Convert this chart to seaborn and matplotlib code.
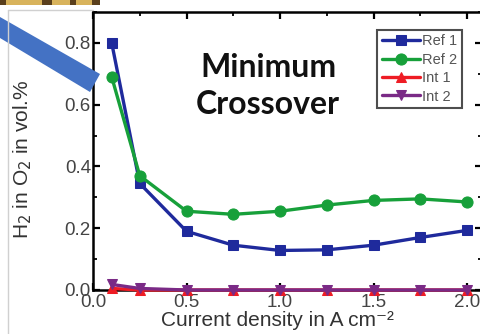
import matplotlib
matplotlib.use("Agg")
import matplotlib.pyplot as plt
import matplotlib.transforms as mtransforms
import seaborn as sns
import pandas as pd
from matplotlib.patches import Polygon, Rectangle
from matplotlib.ticker import MultipleLocator

# Current density (A cm^-2) and H2 crossover (vol.% H2 in O2)
current_density = [0.1, 0.25, 0.5, 0.75, 1.0, 1.25, 1.5, 1.75, 2.0]
ref1 = [0.80, 0.345, 0.19, 0.145, 0.128, 0.130, 0.145, 0.170, 0.193]
ref2 = [0.69, 0.370, 0.255, 0.245, 0.255, 0.275, 0.290, 0.295, 0.285]
int1 = [0.005, 0.0, 0.0, 0.0, 0.0, 0.0, 0.0, 0.0, 0.0]
int2 = [0.018, 0.005, 0.0, 0.0, 0.0, 0.0, 0.0, 0.0, 0.0]

series_names = ["Ref 1", "Ref 2", "Int 1", "Int 2"]
series_values = [ref1, ref2, int1, int2]
colors = ["#1f2a9c", "#17a03a", "#ee1c24", "#7a2a86"]
markers = ["s", "o", "^", "v"]
marker_sizes = [7, 8, 7, 7]

frames = []
for name, vals in zip(series_names, series_values):
    frames.append(pd.DataFrame({"j": current_density, "h2": vals, "sample": name}))
df = pd.concat(frames, ignore_index=True)

sns.set_theme(style="white")
plt.rcParams["font.family"] = ["Liberation Sans", "DejaVu Sans"]

W, H = 481, 334
fig = plt.figure(figsize=(W / 100, H / 100), dpi=100)
fig.patch.set_facecolor("white")

ax = fig.add_axes([93 / W, (H - 290) / H, (482 - 93) / W, (290 - 12) / H])
ax.set_facecolor("white")

for name, col, mk, ms in zip(series_names, colors, markers, marker_sizes):
    sub = df[df["sample"] == name]
    sns.lineplot(data=sub, x="j", y="h2", ax=ax, color=col, marker=mk,
                 markersize=ms, markeredgecolor=col, linewidth=2.4,
                 label=name, clip_on=False, zorder=3)

ax.set_xlim(0, 2.08)
ax.set_ylim(0, 0.9)
ax.xaxis.set_major_locator(MultipleLocator(0.5))
ax.xaxis.set_minor_locator(MultipleLocator(0.25))
ax.yaxis.set_minor_locator(MultipleLocator(0.1))
ax.set_yticks([0.0, 0.2, 0.4, 0.6, 0.8])

for s in ax.spines.values():
    s.set_color("black")
    s.set_linewidth(1.8)

ax.tick_params(which="both", direction="in", top=True, right=True,
               bottom=True, left=True, color="black")
ax.tick_params(which="major", length=5, width=1.6, labelsize=13.5,
               labelcolor="#444444")
ax.tick_params(axis="x", which="major", pad=3)
ax.tick_params(axis="y", which="major", pad=1.5)
ax.tick_params(which="minor", length=3, width=1.3)

# nudge the x-axis "0.0" label right so it clears the y-axis one
fig.canvas.draw()
first = ax.get_xticklabels()[0]
first.set_transform(first.get_transform() +
                    mtransforms.ScaledTranslation(6 / 100, 0, fig.dpi_scale_trans))

ax.set_xlabel("Current density in A cm\u207b\u00b2", fontsize=15, color="#333333")
ax.set_ylabel("H$_2$ in O$_2$ in vol.%", fontsize=15, color="#333333")
ax.xaxis.set_label_coords((277 - 93) / 389, -(311 - 290) / 278)
ax.yaxis.set_label_coords(-(93 - 34) / 389, 0.5 - 8 / 278)

leg = ax.legend(loc="upper right", bbox_to_anchor=((462 - 93) / 389, 0.935),
                frameon=True, fancybox=False, fontsize=10.5,
                handlelength=2.6, handletextpad=0.2, labelspacing=0.3,
                borderpad=0.3, borderaxespad=0)
leg.get_frame().set_edgecolor("#222222")
leg.get_frame().set_linewidth(1.5)
for t in leg.get_texts():
    t.set_color("#555555")

# Annotation text
fig.text(268 / W, 1 - 86 / H, "Minimum\nCrossover", ha="center", va="center",
         fontsize=23, fontweight="bold", family=["Lato", "DejaVu Sans"],
         color="#111111", linespacing=1.3)

# Slide decorations drawn in pixel space on top
over = fig.add_axes([0, 0, 1, 1], zorder=10)
over.set_xlim(0, W)
over.set_ylim(H, 0)
over.axis("off")
over.patch.set_alpha(0)
over.plot([8, 8], [10, H], color="#d0d0d0", lw=1)
over.plot([8, 93], [10, 10], color="#d0d0d0", lw=1)
over.add_patch(Rectangle((0, 0), 100, 4.5, color="#d8b35c", lw=0))
for x0, w in [(0, 6), (42, 10), (70, 6), (92, 8)]:
    over.add_patch(Rectangle((x0, 0), w, 4.5, color="#5a3f1c", lw=0))
over.add_patch(Polygon([(0, 17), (100, 74), (90, 92), (0, 38)],
                       closed=True, color="#4472c4", lw=0))

fig.savefig("out.png", dpi=100, facecolor="white")
